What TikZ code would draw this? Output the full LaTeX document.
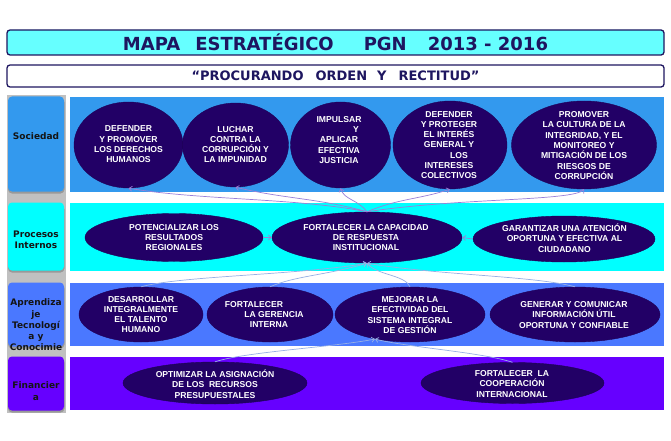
\documentclass[tikz,border=0pt]{standalone}
\usepackage{fontspec}
\setmainfont{Liberation Sans}
\newfontfamily\dejavu{DejaVu Sans}
\usetikzlibrary{shapes.geometric,arrows.meta}
\definecolor{navy}{HTML}{1E1660}
\definecolor{titlecyan}{HTML}{66FFFF}
\definecolor{rowA}{HTML}{3399EE}
\definecolor{rowB}{HTML}{00FFFF}
\definecolor{rowC}{HTML}{4A78FF}
\definecolor{rowD}{HTML}{6600FF}
\definecolor{goalfill}{HTML}{220066}
\definecolor{linkAc}{HTML}{9A7FD8}
\definecolor{linkBc}{HTML}{98B0E4}
\definecolor{greycol}{HTML}{C0C0C0}
\begin{document}
\begin{tikzpicture}[x=1pt,y=1pt,
  band/.style={rectangle, inner sep=0pt, minimum width=594pt},
  lab/.style={rectangle, rounded corners=4pt, inner sep=0pt, minimum width=56pt},
  goal/.style={ellipse, fill=goalfill, draw=goalfill!85!black, line width=0.4pt, inner sep=0pt},
  gtext/.style={text=white, font=\fontsize{8.6}{10.3}\selectfont\bfseries, align=center, inner sep=0pt},
  ltext/.style={text=black!92, font=\dejavu\fontsize{9}{11.3}\selectfont\bfseries, align=center, inner sep=0pt},
  linkA/.style={draw=linkAc, line width=0.7pt, -{Straight Barb[length=3pt,width=5pt]}},
  linkB/.style={draw=linkBc, line width=0.7pt, -{Straight Barb[length=3pt,width=5pt]}},
  headbox/.style={rectangle, draw=navy, line width=1.3pt, rounded corners=3pt, inner sep=0pt, minimum width=657pt, text=navy}
]
\useasboundingbox (0,0) rectangle (671,440);
\fill[white] (0,0) rectangle (671,440);

% header
\node[headbox, fill=titlecyan, minimum height=25pt,
      font=\dejavu\fontsize{18}{20}\selectfont\bfseries] (title) at (335.5,397.5)
  {MAPA\hspace{15pt}ESTRATÉGICO\hspace{30pt}PGN\hspace{21pt}2013 - 2016};
\node[headbox, fill=white, minimum height=22pt,
      font=\dejavu\fontsize{13}{15}\selectfont\bfseries] (motto) at (335.5,364)
  {“PROCURANDO\hspace{12pt}ORDEN\hspace{10pt}Y\hspace{12pt}RECTITUD”};

% left column
\fill[greycol] (7,27) rectangle (65.5,345);
\fill[black!40, rounded corners=4pt] (8,246.5) rectangle (64.5,341.5);
\fill[black!40, rounded corners=4pt] (8,167.5) rectangle (64.5,234.5);
\fill[black!40, rounded corners=4pt] (8,91.5) rectangle (64.5,155.5);
\fill[black!40, rounded corners=4pt] (8,27.5) rectangle (64.5,81.5);
\node[lab, fill=rowA, minimum height=95pt] (labA) at (36,296) {};
\node[lab, fill=rowB, minimum height=68pt] (labB) at (36,203.5) {};
\node[lab, fill=rowC, minimum height=64pt] (labC) at (36,125.5) {};
\node[ltext] (labAt) at (36,304) {Sociedad};
\node[ltext] (labBt) at (36,200) {Procesos\\Internos};
\node[ltext] (labCt) at (36,115) {Aprendiza\\je\\Tecnologí\\a y\\Conocimie};
\node[lab, fill=rowD, minimum height=54pt] (labD) at (36,56.5) {};
\node[ltext] (labDt) at (36,49) {Financier\\a};

% bands
\node[band, fill=rowA, minimum height=95pt] (bandA) at (367,295.5) {};
\node[band, fill=rowB, minimum height=68pt] (bandB) at (367,203) {};
\node[band, fill=rowC, minimum height=63pt] (bandC) at (367,125.5) {};
\node[band, fill=rowD, minimum height=53pt] (bandD) at (367,56.5) {};

% row 1
\node[goal, minimum width=109pt, minimum height=86pt] (E1) at (128.5,295) {};
\node[goal, minimum width=106pt, minimum height=84pt] (E2) at (235.5,295) {};
\node[goal, minimum width=100pt, minimum height=86pt] (E3) at (340.5,295) {};
\node[goal, minimum width=114pt, minimum height=88pt] (E4) at (450,295) {};
\node[goal, minimum width=145pt, minimum height=88pt] (E5) at (584,295) {};
\node[gtext] (E1t) at (128.5,295.5) {DEFENDER\\Y PROMOVER\\LOS DERECHOS\\HUMANOS};
\node[gtext] (E2t) at (235.5,295.5) {LUCHAR\\CONTRA LA\\CORRUPCIÓN Y\\LA IMPUNIDAD};
\node[gtext] (E3t) at (339,300) {IMPULSAR\\\hspace*{34pt}Y\\APLICAR\\EFECTIVA\\JUSTICIA};
\node[gtext] (E4t) at (449,295) {DEFENDER\\Y PROTEGER\\EL INTERÉS\\GENERAL Y\hspace*{24pt}\\\hspace*{20pt}LOS\\INTERESES\\COLECTIVOS};
\node[gtext] (E5t) at (584,294.5) {PROMOVER\\LA CULTURA DE LA\\INTEGRIDAD, Y EL\\MONITOREO Y\\MITIGACIÓN DE LOS\\RIESGOS DE\\CORRUPCIÓN};

% row 2
\node[goal, minimum width=178pt, minimum height=48pt] (P1) at (174,202.5) {};
\node[goal, minimum width=190pt, minimum height=51pt] (P2) at (367,202.5) {};
\node[goal, minimum width=182pt, minimum height=46pt] (P3) at (564,201) {};
\node[gtext] (P1t) at (174,202.5) {POTENCIALIZAR LOS\\RESULTADOS\\REGIONALES};
\node[gtext] (P2t) at (366,202.5) {FORTALECER LA CAPACIDAD\\DE RESPUESTA\\INSTITUCIONAL};
\node[gtext] (P3t) at (564.5,202) {GARANTIZAR UNA ATENCIÓN\\OPORTUNA Y EFECTIVA AL\\CIUDADANO};

% row 3
\node[goal, minimum width=124pt, minimum height=55pt] (L1) at (141,125.5) {};
\node[goal, minimum width=126pt, minimum height=55pt] (L2) at (270,125.5) {};
\node[goal, minimum width=150pt, minimum height=55pt] (L3) at (410,125.5) {};
\node[goal, minimum width=170pt, minimum height=55pt] (L4) at (575,125.5) {};
\node[gtext] (L1t) at (141,125.5) {DESARROLLAR\\INTEGRALMENTE\\EL TALENTO\\HUMANO};
\node[gtext] (L2t) at (269,125.5) {FORTALECER\hspace*{30pt}\\\hspace*{10pt}LA GERENCIA\\INTERNA};
\node[gtext] (L3t) at (410,125) {MEJORAR LA\\EFECTIVIDAD DEL\\SISTEMA INTEGRAL\\DE GESTIÓN};
\node[gtext] (L4t) at (574,125) {GENERAR Y COMUNICAR\\INFORMACIÓN ÚTIL\\OPORTUNA Y CONFIABLE};

% row 4
\node[goal, minimum width=184pt, minimum height=42pt] (F1) at (215,57) {};
\node[goal, minimum width=183pt, minimum height=41pt] (F2) at (512.5,57) {};
\node[gtext] (F1t) at (215,56) {OPTIMIZAR LA ASIGNACIÓN\\DE LOS\ \ RECURSOS\\PRESUPUESTALES};
\node[gtext] (F2t) at (512,56) {FORTALECER\ \ LA\\COOPERACIÓN\\INTERNACIONAL};

% connectors row 2 -> row 1
\draw[linkA] (P2.north) .. controls +(-70,14) and +(70,-12) .. (E1.south);
\draw[linkA] (P2.north) .. controls +(-50,14) and +(50,-12) .. (E2.south);
\draw[linkA] (P2.north) .. controls +(-10,13) and +(4,-12) .. (E3.south);
\draw[linkA] (P2.north) .. controls +(30,13) and +(-30,-10) .. (E4.south);
\draw[linkA] (P2.north) .. controls +(90,14) and +(-10,-12) .. (E5.south);
\draw[linkA] (P1.east) -- (P2.west);
\draw[linkA] (P3.west) -- (P2.east);

% connectors row 3 -> row 2
\draw[linkB] (L1.north) .. controls +(40,11) and +(-70,-12) .. (P2.south);
\draw[linkB] (L2.north) .. controls +(25,11) and +(-40,-12) .. (P2.south);
\draw[linkB] (L3.north) .. controls +(-5,12) and +(10,-12) .. (P2.south);
\draw[linkB] (L4.north) .. controls +(-40,11) and +(70,-12) .. (P2.south);

% connectors row 4 -> row 3
\draw[linkB] (F1.north) .. controls +(30,10) and +(-40,-8) .. (L3.215);
\draw[linkB] (F2.north) .. controls +(-30,10) and +(30,-8) .. (L3.215);
\end{tikzpicture}
\end{document}
